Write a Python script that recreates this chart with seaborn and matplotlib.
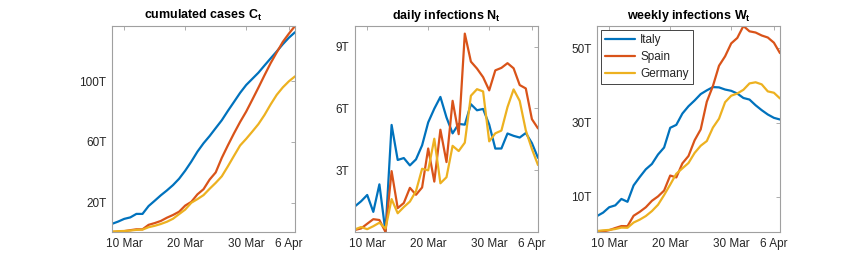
import numpy as np
import pandas as pd
import matplotlib
matplotlib.use('Agg')
import matplotlib.pyplot as plt
import matplotlib.dates as mdates
import seaborn as sns

# Data (in thousands, "T"), 8 Mar .. 7 Apr
dates = pd.date_range('2020-03-08', '2020-04-07', freq='D')
countries = ['Italy', 'Spain', 'Germany']

italy_cum = [5.883, 7.375, 9.172, 10.149, 12.462, 12.462, 17.660, 21.157, 24.747, 27.980,
             31.506, 35.713, 41.035, 47.021, 53.578, 59.138, 63.927, 69.176, 74.386, 80.589,
             86.498, 92.472, 97.689, 101.739, 105.792, 110.574, 115.242, 119.827, 124.632,
             128.948, 132.547]
spain_cum = [0.500, 0.673, 1.073, 1.695, 2.277, 2.277, 5.232, 6.391, 7.798, 9.942, 11.748,
             13.910, 17.963, 20.410, 25.374, 28.768, 35.136, 39.885, 49.515, 57.786, 65.719,
             73.235, 80.110, 87.956, 95.923, 104.118, 112.065, 119.199, 126.168, 131.646,
             136.675]
germany_cum = [0.799, 1.040, 1.176, 1.457, 1.908, 2.078, 3.675, 4.585, 5.795, 7.272, 9.257,
               12.327, 15.320, 19.848, 22.213, 24.873, 29.056, 32.986, 37.323, 43.938, 50.871,
               57.695, 62.095, 66.885, 71.808, 77.872, 84.794, 91.159, 96.092, 100.123,
               103.374]

italy_daily = [1.247, 1.492, 1.797, 0.977, 2.313, 0.0, 5.198, 3.497, 3.590, 3.233, 3.526,
               4.207, 5.322, 5.986, 6.557, 5.560, 4.789, 5.249, 5.210, 6.203, 5.909, 5.974,
               5.217, 4.050, 4.053, 4.782, 4.668, 4.585, 4.805, 4.316, 3.599]
spain_daily = [0.100, 0.173, 0.400, 0.622, 0.582, 0.0, 2.955, 1.159, 1.407, 2.144, 1.806,
               2.162, 4.053, 2.447, 4.964, 3.394, 6.368, 4.749, 9.630, 8.271, 7.933, 7.516,
               6.875, 7.846, 7.967, 8.195, 7.947, 7.134, 6.969, 5.478, 5.029]
germany_daily = [0.129, 0.241, 0.136, 0.281, 0.451, 0.170, 1.597, 0.910, 1.210, 1.477, 1.985,
                 3.070, 2.993, 4.528, 2.365, 2.660, 4.183, 3.930, 4.337, 6.615, 6.933, 6.824,
                 4.400, 4.790, 4.923, 6.064, 6.922, 6.365, 4.933, 4.031, 3.251]

italy_weekly = [4.755, 5.681, 7.136, 7.647, 9.373, 8.604, 13.024, 15.274, 17.372, 18.808,
                21.357, 23.251, 28.573, 29.361, 32.421, 34.391, 35.947, 37.670, 38.673,
                39.554, 39.477, 38.894, 38.551, 37.812, 36.616, 36.188, 34.653, 33.329,
                32.160, 31.259, 30.808]
spain_weekly = [0.455, 0.589, 0.953, 1.530, 2.055, 2.018, 4.832, 5.891, 7.125, 8.869, 10.053,
                11.633, 15.686, 15.178, 18.983, 20.970, 25.194, 28.137, 35.605, 39.823,
                45.309, 47.861, 51.342, 52.820, 56.038, 54.603, 54.279, 53.480, 52.933,
                51.536, 48.719]
germany_weekly = [0.720, 0.910, 1.017, 1.261, 1.646, 1.596, 3.005, 3.786, 4.755, 6.096, 7.800,
                  10.419, 13.242, 16.173, 17.628, 19.078, 21.784, 23.729, 24.996, 28.618,
                  31.023, 35.482, 37.222, 37.829, 38.822, 40.549, 40.856, 40.288, 38.397,
                  38.028, 36.489]

titles = [r'cumulated cases C$_\mathbf{t}$', r'daily infections N$_\mathbf{t}$',
          r'weekly infections W$_\mathbf{t}$']
yticks = [[20, 60, 100], [3, 6, 9], [10, 30, 50]]
ylims = [(0.5, 136.675), (0, 10), (0.455, 56.038)]
xticks = pd.to_datetime(['2020-03-10', '2020-03-20', '2020-03-30', '2020-04-06'])

panels = [
    [italy_cum, spain_cum, germany_cum],
    [italy_daily, spain_daily, germany_daily],
    [italy_weekly, spain_weekly, germany_weekly],
]

PALETTE = {'Italy': '#0072BD', 'Spain': '#D95319', 'Germany': '#EDB120'}

sns.set_style('white')
plt.rcParams.update({
    'font.family': ['Liberation Sans', 'DejaVu Sans'],
    'mathtext.fontset': 'custom',
    'mathtext.rm': 'Liberation Sans',
    'mathtext.bf': 'Liberation Sans:bold',
    'axes.edgecolor': '#a0a0a0',
    'axes.linewidth': 0.8,
    'xtick.color': '#a0a0a0',
    'ytick.color': '#a0a0a0',
    'xtick.labelcolor': '#262626',
    'ytick.labelcolor': '#262626',
    'xtick.direction': 'in',
    'ytick.direction': 'in',
    'xtick.major.size': 3,
    'ytick.major.size': 3,
    'xtick.major.width': 0.6,
    'ytick.major.width': 0.6,
    'xtick.top': True,
    'ytick.right': True,
})

fig = plt.figure(figsize=(8.63, 2.61), dpi=100)
lefts = [112 / 863, 355 / 863, 597 / 863]
axes = [fig.add_axes([l, 29 / 261, 183 / 863, 206 / 261]) for l in lefts]

for ax, series, title, yt, yl in zip(axes, panels, titles, yticks, ylims):
    df = pd.DataFrame({
        'date': np.tile(dates, 3),
        'value': np.concatenate(series),
        'country': np.repeat(countries, len(dates)),
    })
    sns.lineplot(data=df, x='date', y='value', hue='country', palette=PALETTE,
                 hue_order=countries, linewidth=1.6, ax=ax, legend=(ax is axes[2]))
    ax.set_xlim(dates[0], dates[-1])
    ax.set_ylim(*yl)
    ax.set_yticks(yt)
    ax.set_yticklabels([f'{v}T' for v in yt])
    ax.set_xticks(xticks)
    ax.xaxis.set_major_formatter(mdates.DateFormatter('%-d %b'))
    ax.tick_params(labelsize=8.5, pad=4)
    ax.set_xlabel('')
    ax.set_ylabel('')
    ax.set_title(title, fontsize=9, fontweight='bold', color='black', pad=5)
    for s in ax.spines.values():
        s.set_visible(True)

leg = axes[2].legend(loc='upper left', fontsize=8.5, frameon=True, fancybox=False,
                     edgecolor='#262626', framealpha=1, handlelength=2.6,
                     handletextpad=0.4, borderpad=0.35, borderaxespad=0.3,
                     labelspacing=0.45)
leg.get_frame().set_linewidth(0.6)

plt.savefig('out.png', dpi=100)
plt.close()
